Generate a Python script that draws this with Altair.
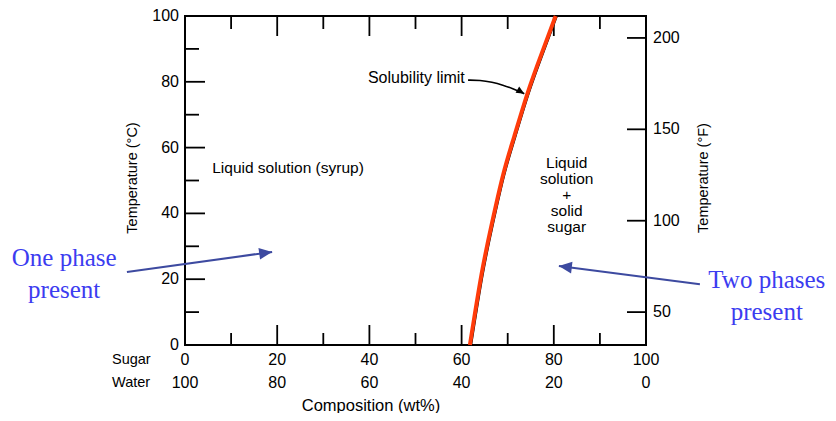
import altair as alt
import pandas as pd

# ---- data ----
# solubility limit curve: sugar composition (wt%) vs temperature (°C)
curve_comp = [61.8, 64.3, 66.5, 69.0, 71.4, 74.3, 77.4, 80.4]
curve_temp = [0.0, 21.3, 36.5, 51.7, 63.3, 76.5, 88.7, 100.0]

celsius_labels = [0, 20, 40, 60, 80, 100]
celsius_major = [20, 40, 60, 80]
celsius_minor = [10, 30, 50, 70, 90]
comp_major = [20, 40, 60, 80]
comp_minor = [10, 30, 50, 70, 90]
sugar_labels = [0, 20, 40, 60, 80, 100]
water_labels = [100, 80, 60, 40, 20, 0]
fahrenheit_ticks = [50, 100, 150, 200]

# annotations (in data coordinates: composition, °C)
arrow1_x = [-12.6, 18.9]
arrow1_y = [22.2, 28.3]
arrow2_x = [111.7, 81.1]
arrow2_y = [18.5, 24.0]
sol_arrow_x = [61.4, 64.0, 66.6, 69.0, 71.0, 73.6]
sol_arrow_y = [80.5, 80.5, 79.9, 79.0, 78.0, 76.4]

region_text = ["Liquid solution (syrup)", "Solubility limit", "Liquid\nsolution\n+\nsolid\nsugar"]
region_x = [5.9, 60.7, 82.8]
region_y = [53.8, 81.2, 55.3]
region_align = ["left", "right", "center"]
region_size = [15.5, 16, 15.5]

phase_text = ["One phase\npresent", "Two phases\npresent"]
phase_x = [-26.2, 126.2]
phase_y = [26.4, 19.8]

W, H = 461, 329
FONT = "Liberation Sans"
SERIF = "Liberation Serif"
RED = "#ff3b0a"
NAVY = "#3d4aa0"
BLUE = "#3c3cf0"

xs = alt.Scale(domain=[0, 100], nice=False, zero=False)
ys = alt.Scale(domain=[0, 100], nice=False, zero=False)


def X(f):
    return alt.X(f, type="quantitative", scale=xs, axis=None)


def Y(f):
    return alt.Y(f, type="quantitative", scale=ys, axis=None)


curve_df = pd.DataFrame({"c": curve_comp, "t": curve_temp})
curve_black = alt.Chart(curve_df).mark_line(
    color="black", strokeWidth=1.6, xOffset=1.5, interpolate="natural"
).encode(x=X("c"), y=Y("t"), order="t:Q")
curve_red = alt.Chart(curve_df).mark_line(
    color=RED, strokeWidth=4, interpolate="natural"
).encode(x=X("c"), y=Y("t"), order="t:Q")

rule = dict(color="black", strokeWidth=1.8)
left_major = alt.Chart(pd.DataFrame({"v": celsius_major})).mark_rule(**rule).encode(
    y=Y("v"), x=alt.value(0), x2=alt.value(20))
left_minor = alt.Chart(pd.DataFrame({"v": celsius_minor})).mark_rule(**rule).encode(
    y=Y("v"), x=alt.value(0), x2=alt.value(14))
bottom_major = alt.Chart(pd.DataFrame({"v": comp_major})).mark_rule(**rule).encode(
    x=X("v"), y=alt.value(H), y2=alt.value(H - 20))
bottom_minor = alt.Chart(pd.DataFrame({"v": comp_minor})).mark_rule(**rule).encode(
    x=X("v"), y=alt.value(H), y2=alt.value(H - 12))
top_major = alt.Chart(pd.DataFrame({"v": comp_major})).mark_rule(**rule).encode(
    x=X("v"), y=alt.value(0), y2=alt.value(20))
top_minor = alt.Chart(pd.DataFrame({"v": comp_minor})).mark_rule(**rule).encode(
    x=X("v"), y=alt.value(0), y2=alt.value(13))

f_df = pd.DataFrame({"f": fahrenheit_ticks})
right_ticks = alt.Chart(f_df).transform_calculate(
    c="(datum.f - 32) * 5 / 9").mark_rule(**rule).encode(
    y=Y("c"), x=alt.value(W), x2=alt.value(W - 19))
right_labels = alt.Chart(f_df).transform_calculate(
    c="(datum.f - 32) * 5 / 9").mark_text(
    align="left", baseline="middle", font=FONT, fontSize=16, color="black").encode(
    y=Y("c"), x=alt.value(W + 7), text="f:Q")

left_labels = alt.Chart(pd.DataFrame({"v": celsius_labels})).mark_text(
    align="right", baseline="middle", font=FONT, fontSize=16, color="black").encode(
    y=Y("v"), x=alt.value(-6), text="v:Q")

comp_df = pd.DataFrame({"s": sugar_labels, "w": water_labels})
sugar_row = alt.Chart(comp_df).mark_text(
    align="center", baseline="middle", font=FONT, fontSize=16, color="black").encode(
    x=X("s"), y=alt.value(H + 15), text="s:Q")
water_row = alt.Chart(comp_df).mark_text(
    align="center", baseline="middle", font=FONT, fontSize=16, color="black").encode(
    x=X("s"), y=alt.value(H + 38), text="w:Q")


def fixed_text(t, x, y, size=14, angle=0, align="center"):
    kw = dict(align=align, baseline="middle", font=FONT, fontSize=size, color="black")
    if angle:
        kw["angle"] = angle
    return alt.Chart(pd.DataFrame({"t": [t]})).mark_text(**kw).encode(
        x=alt.value(x), y=alt.value(y), text="t:N")


sugar_name = fixed_text("Sugar", -73, H + 15, size=14.5, align="left")
water_name = fixed_text("Water", -73, H + 38, size=14.5, align="left")
x_title = fixed_text("Composition (wt%)", 186, H + 61, size=16.5)
yl_title = fixed_text("Temperature (°C)", -52, 162, size=14.5, angle=270)
yr_title = fixed_text("Temperature (°F)", W + 58, 162, size=14.5, angle=270)

reg_df = pd.DataFrame({"t": region_text, "x": region_x, "y": region_y})
region_layers = []
for i in range(len(region_text)):
    region_layers.append(
        alt.Chart(reg_df.iloc[[i]]).mark_text(
            align=region_align[i], baseline="middle", font=FONT, fontSize=region_size[i],
            lineHeight=16, color="black", lineBreak="\n").encode(
            x=X("x"), y=Y("y"), text="t:N"))

sol_df = pd.DataFrame({"x": sol_arrow_x, "y": sol_arrow_y, "o": list(range(len(sol_arrow_x)))})
sol_line = alt.Chart(sol_df).mark_line(color="black", strokeWidth=1.6, interpolate="basis").encode(
    x=X("x"), y=Y("y"), order="o:Q")
sol_head = alt.Chart(sol_df.iloc[[-1]]).mark_point(
    shape="M0,0L-2,-0.9L-2,0.9Z", filled=True, color="black", size=64, angle=30, opacity=1).encode(
    x=X("x"), y=Y("y"))

a1 = pd.DataFrame({"x": arrow1_x, "y": arrow1_y, "o": [0, 1]})
a2 = pd.DataFrame({"x": arrow2_x, "y": arrow2_y, "o": [0, 1]})
arrow1_line = alt.Chart(a1).mark_line(color=NAVY, strokeWidth=2).encode(x=X("x"), y=Y("y"), order="o:Q")
arrow2_line = alt.Chart(a2).mark_line(color=NAVY, strokeWidth=2).encode(x=X("x"), y=Y("y"), order="o:Q")
arrow1_head = alt.Chart(a1.iloc[[1]]).mark_point(
    shape="M0,0L-2,-0.9L-2,0.9Z", filled=True, color=NAVY, size=169, angle=352, opacity=1).encode(
    x=X("x"), y=Y("y"))
arrow2_head = alt.Chart(a2.iloc[[1]]).mark_point(
    shape="M0,0L-2,-0.9L-2,0.9Z", filled=True, color=NAVY, size=169, angle=187, opacity=1).encode(
    x=X("x"), y=Y("y"))

phase_df = pd.DataFrame({"t": phase_text, "x": phase_x, "y": phase_y})
phase_txt = alt.Chart(phase_df).mark_text(
    align="center", baseline="middle", font=SERIF, fontSize=25, lineHeight=32,
    color=BLUE, lineBreak="\n").encode(x=X("x"), y=Y("y"), text="t:N")

chart = alt.layer(
    left_major, left_minor, bottom_major, bottom_minor, top_major, top_minor,
    right_ticks, right_labels, left_labels, sugar_row, water_row, sugar_name, water_name,
    x_title, yl_title, yr_title, *region_layers, sol_line, sol_head,
    curve_black, curve_red, arrow1_line, arrow2_line, arrow1_head, arrow2_head, phase_txt,
).properties(
    width=W, height=H,
    padding={"left": 177, "top": 8, "right": 182, "bottom": 68},
    autosize=alt.AutoSizeParams(type="none"),
    background="white",
).configure_view(stroke="black", strokeWidth=2)

chart.save("out.html", embed_options={"renderer": "svg", "actions": False})
